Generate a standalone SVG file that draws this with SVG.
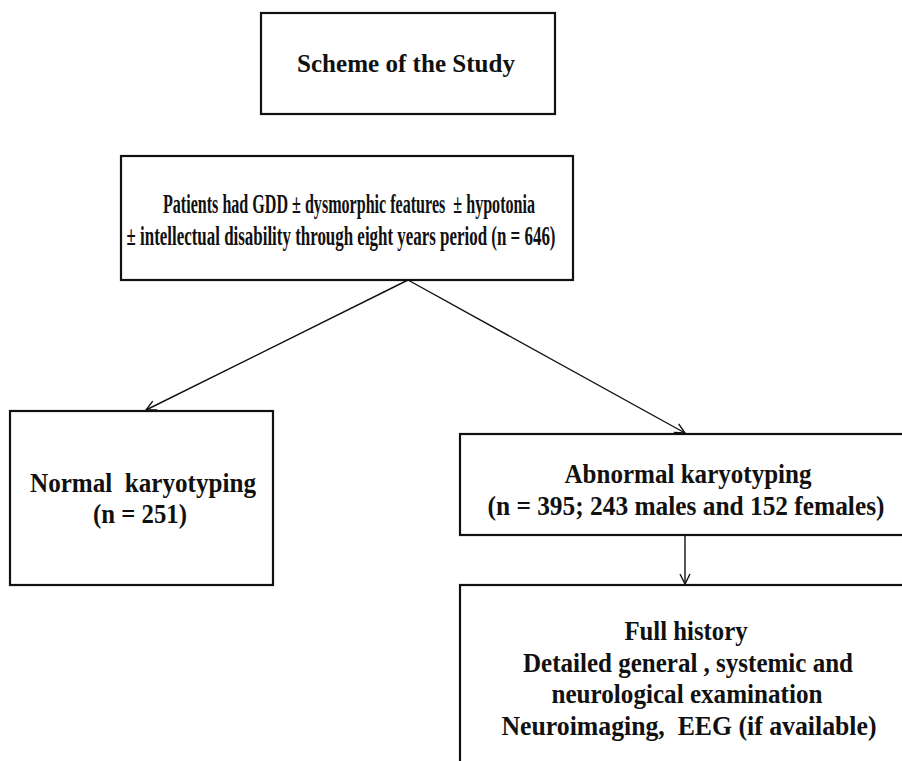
<svg xmlns="http://www.w3.org/2000/svg" width="902" height="761" viewBox="0 0 902 761">
<style>
.box{fill:#fff;stroke:#111;stroke-width:2.2}
.t{font-family:"Liberation Serif","Times New Roman",serif;font-weight:bold;fill:#111;text-anchor:middle;white-space:pre}
.c{stroke:#111;stroke-width:1.4;fill:none}
</style>
<defs>
<marker id="ah" viewBox="0 0 12 12" refX="11" refY="6" markerWidth="12" markerHeight="12" markerUnits="userSpaceOnUse" orient="auto">
<path d="M1,1 L11,6 L1,11" fill="none" stroke="#111" stroke-width="1.4"/>
</marker>
</defs>
<rect width="902" height="761" fill="#fff"/>
<g id="scheme">
<rect class="box" x="261" y="13" width="294" height="101"/>
<text class="t" x="406" y="72" font-size="26" textLength="218" lengthAdjust="spacingAndGlyphs">Scheme of the Study</text>
</g>
<g id="patients">
<rect class="box" x="121" y="156" width="452" height="124"/>
<text class="t" x="349" y="213" font-size="28" textLength="372" lengthAdjust="spacingAndGlyphs">Patients had GDD ± dysmorphic features  ± hypotonia</text>
<text class="t" x="341" y="245" font-size="28" textLength="429" lengthAdjust="spacingAndGlyphs">± intellectual disability through eight years period (n = 646)</text>
</g>
<g id="normal">
<rect class="box" x="10" y="411" width="263" height="174"/>
<text class="t" x="143" y="492" font-size="28" textLength="226" lengthAdjust="spacingAndGlyphs">Normal  karyotyping</text>
<text class="t" x="140" y="523" font-size="28" textLength="94" lengthAdjust="spacingAndGlyphs">(n = 251)</text>
</g>
<g id="abnormal">
<rect class="box" x="460" y="434" width="450" height="101"/>
<text class="t" x="688" y="483" font-size="28" textLength="247" lengthAdjust="spacingAndGlyphs">Abnormal karyotyping</text>
<text class="t" x="686" y="515" font-size="28" textLength="397" lengthAdjust="spacingAndGlyphs">(n = 395; 243 males and 152 females)</text>
</g>
<g id="workup">
<rect class="box" x="460" y="585" width="450" height="190"/>
<text class="t" x="686" y="640" font-size="28" textLength="123" lengthAdjust="spacingAndGlyphs">Full history</text>
<text class="t" x="688" y="672" font-size="28" textLength="330" lengthAdjust="spacingAndGlyphs">Detailed general , systemic and</text>
<text class="t" x="687" y="703" font-size="28" textLength="271" lengthAdjust="spacingAndGlyphs">neurological examination</text>
<text class="t" x="689" y="735" font-size="28" textLength="375" lengthAdjust="spacingAndGlyphs">Neuroimaging,  EEG (if available)</text>
</g>
<g id="connectors">
<line class="c" x1="408" y1="280" x2="146" y2="410" marker-end="url(#ah)"/>
<line class="c" x1="408" y1="280" x2="685" y2="433" marker-end="url(#ah)"/>
<line class="c" x1="685" y1="535" x2="685" y2="584" marker-end="url(#ah)"/>
</g>
</svg>
